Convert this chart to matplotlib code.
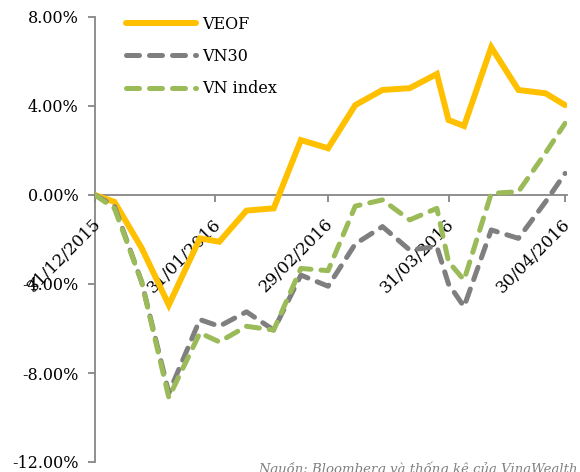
import matplotlib
matplotlib.use("Agg")
import matplotlib.pyplot as plt
import matplotlib.dates as mdates
import matplotlib.transforms as mtransforms
import pandas as pd

dates = ['2015-12-31', '2016-01-05', '2016-01-12', '2016-01-19', '2016-01-27',
         '2016-02-01', '2016-02-08', '2016-02-15', '2016-02-22', '2016-02-29',
         '2016-03-07', '2016-03-14', '2016-03-21', '2016-03-28', '2016-03-31',
         '2016-04-04', '2016-04-11', '2016-04-18', '2016-04-25', '2016-04-30']
veof = [0, -0.31, -2.38, -4.94, -1.95, -2.10, -0.70, -0.60, 2.47, 2.10,
        4.04, 4.72, 4.80, 5.44, 3.37, 3.10, 6.64, 4.72, 4.57, 4.04]
vn30 = [0, -0.50, -3.90, -8.90, -5.60, -5.90, -5.25, -6.07, -3.60, -4.10,
        -2.20, -1.42, -2.47, -2.32, -4.00, -5.02, -1.57, -1.95, -0.30, 0.97]
vnindex = [0, -0.60, -3.90, -9.10, -6.20, -6.60, -5.90, -6.07, -3.30, -3.40,
           -0.50, -0.22, -1.12, -0.60, -3.00, -3.82, 0.07, 0.15, 1.90, 3.22]
series_names = ['VEOF', 'VN30', 'VN index']
tick_dates = ['2015-12-31', '2016-01-31', '2016-02-29', '2016-03-31', '2016-04-30']
yticks = [-12, -8, -4, 0, 4, 8]
source_text = 'Nguồn: Bloomberg và thống kê của VinaWealth'

x = pd.to_datetime(dates)
xt = pd.to_datetime(tick_dates)

plt.rcParams['font.family'] = ['DejaVu Serif']
fig = plt.figure(figsize=(5.8, 4.72), dpi=100)
ax = fig.add_axes([95/580, 1 - 462/472, (567 - 95)/580, (462 - 17)/472])

axis_col = '#868686'
ax.plot(x, veof, color='#FFC000', lw=4.3, solid_capstyle='round',
        solid_joinstyle='miter', label=series_names[0], zorder=3)
ax.plot(x, vn30, color='#7F7F7F', lw=3.6, dashes=(2.6, 2.0),
        dash_capstyle='round', label=series_names[1], zorder=4)
ax.plot(x, vnindex, color='#9BBB59', lw=3.6, dashes=(2.6, 2.0),
        dash_capstyle='round', label=series_names[2], zorder=5)

ax.set_ylim(-12, 8)
ax.set_xlim(x[0], x[0] + pd.Timedelta(days=121.5))
ax.set_yticks(yticks)
ax.set_yticklabels([f'{v:.2f}%' for v in yticks], fontsize=11.5)
ax.set_xticks(xt)
ax.xaxis.set_major_formatter(mdates.DateFormatter('%d/%m/%Y'))

for s in ['top', 'right']:
    ax.spines[s].set_visible(False)
ax.spines['bottom'].set_position(('data', 0))
ax.spines['left'].set_color(axis_col)
ax.spines['bottom'].set_color(axis_col)
ax.spines['left'].set_linewidth(1.3)
ax.spines['bottom'].set_linewidth(1.3)
ax.spines['left'].set_zorder(1)
ax.spines['bottom'].set_zorder(1)
ax.tick_params(axis='both', direction='out', length=5, width=1.3, color=axis_col)
ax.tick_params(axis='y', pad=7)
ax.tick_params(axis='x', pad=4)

offset = mtransforms.ScaledTranslation(-3/100, -8/100, fig.dpi_scale_trans)
for lab in ax.get_xticklabels():
    lab.set_rotation(45)
    lab.set_ha('right')
    lab.set_va('top')
    lab.set_rotation_mode('anchor')
    lab.set_fontsize(12.2)
    lab.set_transform(lab.get_transform() + offset)

leg = ax.legend(loc='upper left', bbox_to_anchor=(0.035, 1.035), frameon=False,
                fontsize=11.5, handlelength=4.4, handletextpad=0.35,
                labelspacing=0.95)

fig.text(258/580, 1 - 461/472, source_text, fontsize=9.5, style='italic',
         color='#808080', ha='left', va='top')

fig.savefig('out.png', dpi=100)
